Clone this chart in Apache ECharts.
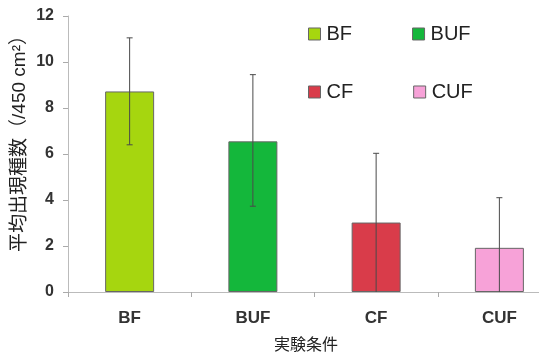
<!DOCTYPE html>
<html>
<head>
<meta charset="utf-8">
<script src="https://cdn.jsdelivr.net/npm/echarts@6/dist/echarts.min.js"></script>
<style>
  html, body { margin: 0; padding: 0; background: #fff; overflow: hidden; }
  /* the drawing is wider than the window: the last band runs off the right edge */
  #chart { width: 561px; height: 359px; }
</style>
</head>
<body>
<div id="chart"></div>
<script>
// Experimental conditions and mean species counts per 450 cm²
const categories = ['BF', 'BUF', 'CF', 'CUF'];
const meanValues = [8.72, 6.55, 3.02, 1.92];
const errorUpper = [11.05, 9.45, 6.03, 4.10];
const errorLower = [6.40, 3.73, 0, 0];
const yTicks = [0, 2, 4, 6, 8, 10, 12];
const barColors = ['#a6d60f', '#14b73b', '#d93c4a', '#f7a2d8'];

const FONT = '"Liberation Sans", Arial, "Noto Sans CJK JP", sans-serif';

const chart = echarts.init(document.getElementById('chart'), null, { renderer: 'canvas' });

// One series per condition so each gets its own legend entry and colour
const barSeries = categories.map((name, i) => ({
  name: name,
  type: 'bar',
  stack: 'cond',
  barWidth: 49,
  data: categories.map((_, j) => (j === i ? meanValues[i] : '-')),
  itemStyle: { color: barColors[i], borderColor: '#666', borderWidth: 1 },
  emphasis: { disabled: true },
  z: 2
}));

const errorSeries = {
  type: 'custom',
  name: 'error',
  data: categories.map((_, i) => [i, errorLower[i], errorUpper[i]]),
  renderItem: function (params, api) {
    const idx = api.value(0);
    const lo = api.coord([idx, api.value(1)]);
    const hi = api.coord([idx, api.value(2)]);
    const cap = 3;
    const style = { stroke: '#4a4a4a', lineWidth: 1 };
    const children = [
      { type: 'line', shape: { x1: hi[0], y1: hi[1], x2: lo[0], y2: lo[1] }, style: style },
      { type: 'line', shape: { x1: hi[0] - cap, y1: hi[1], x2: hi[0] + cap, y2: hi[1] }, style: style }
    ];
    if (api.value(1) > 0) {
      children.push({ type: 'line', shape: { x1: lo[0] - cap, y1: lo[1], x2: lo[0] + cap, y2: lo[1] }, style: style });
    }
    return { type: 'group', children: children };
  },
  z: 5,
  silent: true
};

const legendCommon = {
  orient: 'horizontal',
  icon: 'rect',
  itemWidth: 12,
  itemHeight: 12,
  itemGap: 60,
  selectedMode: false,
  textStyle: { fontFamily: FONT, fontSize: 20, color: '#222', padding: [0, 0, 0, 1] },
  itemStyle: { borderColor: '#666', borderWidth: 1 }
};

chart.setOption({
  animation: false,
  backgroundColor: '#ffffff',
  grid: { left: 68, right: 0, top: 16, bottom: 67, containLabel: false },
  legend: [
    Object.assign({}, legendCommon, { data: ['BF', 'BUF'], left: 303, top: 19 }),
    Object.assign({}, legendCommon, { data: ['CF', 'CUF'], left: 303, top: 77 })
  ],
  xAxis: {
    type: 'category',
    data: categories,
    axisLine: { lineStyle: { color: '#bbbbbb', width: 1 } },
    axisTick: { show: true, alignWithLabel: false, length: 5, lineStyle: { color: '#aaaaaa' } },
    axisLabel: { fontFamily: FONT, fontSize: 17, fontWeight: 'bold', color: '#333', margin: 18 }
  },
  yAxis: {
    type: 'value',
    min: 0,
    max: 12,
    interval: 2,
    axisLine: { show: true, lineStyle: { color: '#bbbbbb', width: 1 } },
    axisTick: { show: true, length: 5, lineStyle: { color: '#aaaaaa' } },
    splitLine: { show: false },
    axisLabel: {
      fontFamily: FONT, fontSize: 16, fontWeight: 'bold', color: '#333', margin: 14,
      formatter: v => (yTicks.indexOf(v) >= 0 ? String(v) : '')
    }
  },
  graphic: [
    {
      type: 'text',
      x: 20, y: 139,
      rotation: Math.PI / 2,
      style: {
        text: '平均出現種数（/450 cm²）',
        fontFamily: FONT, fontSize: 19, fill: '#222',
        textAlign: 'center', textVerticalAlign: 'middle'
      }
    },
    {
      type: 'text',
      x: 306, y: 346,
      style: {
        text: '実験条件',
        fontFamily: FONT, fontSize: 16, fill: '#222',
        textAlign: 'center', textVerticalAlign: 'middle'
      }
    }
  ],
  series: barSeries.concat([errorSeries])
});
</script>
</body>
</html>
